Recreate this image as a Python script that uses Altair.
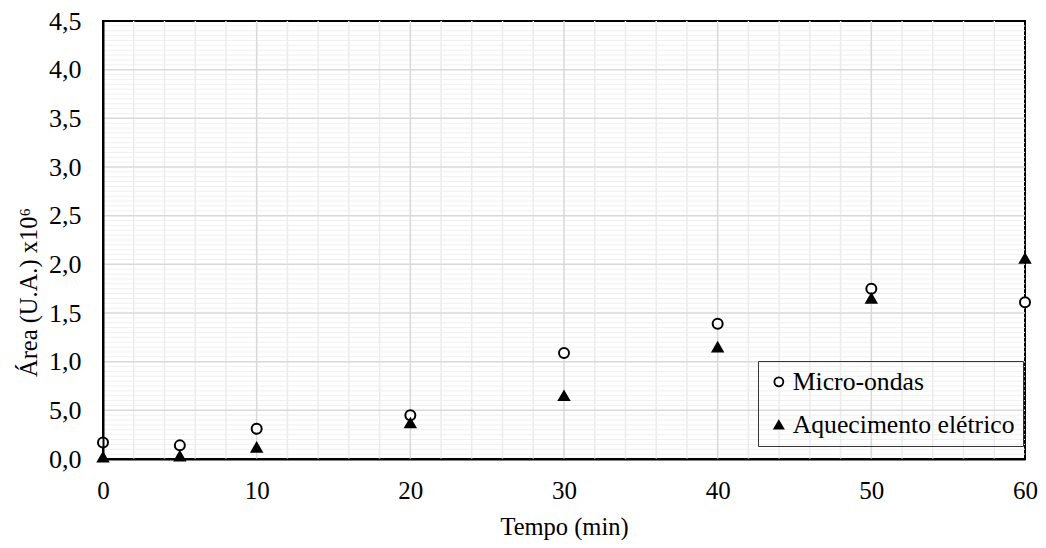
import altair as alt
import pandas as pd

# ---- data ----
tempo = [0, 5, 10, 20, 30, 40, 50, 60]
micro_ondas = [0.17, 0.14, 0.31, 0.45, 1.09, 1.39, 1.75, 1.61]
aquecimento = [0.02, 0.03, 0.12, 0.37, 0.65, 1.15, 1.65, 2.06]
series_names = ["Micro-ondas", "Aquecimento elétrico"]

x_major = [0, 10, 20, 30, 40, 50, 60]
x_minor = [v for v in range(0, 61, 2) if v % 10 != 0]
y_major = [round(i * 0.5, 2) for i in range(10)]
y_minor = [round(i * 0.05, 2) for i in range(91) if i % 10 != 0]
# interior grid lines only (the frame is drawn by the view stroke)
x_grid = x_major[1:-1]
y_grid = y_major[1:-1]

df = pd.DataFrame({
    "Tempo": tempo + tempo,
    "Area": micro_ondas + aquecimento,
    "Serie": [series_names[0]] * len(tempo) + [series_names[1]] * len(tempo),
})

FONT = "Liberation Serif"
xscale = alt.Scale(domain=[0, 60], nice=False, zero=True)
yscale = alt.Scale(domain=[0, 4.5], nice=False, zero=True)

y_label_expr = "datum.value == 0.5 ? '5,0' : replace(format(datum.value, '.1f'), '.', ',')"

xaxis = alt.Axis(
    values=x_major, grid=False, ticks=False, domain=True, domainColor="black", domainWidth=2,
    zindex=1, labelFlush=False, labelFontSize=25, labelFont=FONT, labelColor="black", labelPadding=19,
    title="Tempo (min)", titleFont=FONT, titleFontSize=24.5, titleFontWeight="normal",
    titleColor="black", titleY=75, titleBaseline="alphabetic")
yaxis = alt.Axis(
    values=y_major, grid=False, ticks=False, domain=True, domainColor="black", domainWidth=2,
    zindex=1, labelFlush=False, labelExpr=y_label_expr,
    labelFontSize=26, labelFont=FONT, labelColor="black", labelPadding=22,
    title="Área (U.A.) x10⁶", titleFont=FONT, titleFontSize=24.5, titleFontWeight="normal",
    titleColor="black", titleX=-67, titleY=271, titleBaseline="alphabetic", titleAlign="center")

X = alt.X("Tempo:Q", scale=xscale, axis=xaxis)
Y = alt.Y("Area:Q", scale=yscale, axis=yaxis)

hminor = alt.Chart(pd.DataFrame({"Area": y_minor})).mark_rule(color="#f0f0f0", strokeWidth=1).encode(y=Y)
vminor = alt.Chart(pd.DataFrame({"Tempo": x_minor})).mark_rule(color="#ececec", strokeWidth=1.5).encode(x=X)
hmajor = alt.Chart(pd.DataFrame({"Area": y_grid})).mark_rule(color="#d9d9d9", strokeWidth=1.5).encode(y=Y)
vmajor = alt.Chart(pd.DataFrame({"Tempo": x_grid})).mark_rule(color="#d9d9d9", strokeWidth=1.5).encode(x=X)

legend = alt.Legend(title=None, orient="none", legendX=655, legendY=340,
                    strokeColor="#333333", padding=8, rowPadding=16,
                    labelFont=FONT, labelFontSize=25.7, labelColor="black",
                    labelOffset=1, symbolSize=80, symbolStrokeWidth=1.8,
                    symbolStrokeColor="black", labelLimit=400)

points = alt.Chart(df).mark_point(
    filled=True, strokeWidth=2, size=100, opacity=1, fillOpacity=1, strokeOpacity=1
).encode(
    x=X,
    y=Y,
    shape=alt.Shape("Serie:N", sort=series_names,
                    scale=alt.Scale(domain=series_names, range=["circle", "triangle-up"]),
                    legend=legend),
    fill=alt.Fill("Serie:N", sort=series_names,
                  scale=alt.Scale(domain=series_names, range=["white", "black"]),
                  legend=legend),
    stroke=alt.Stroke("Serie:N", sort=series_names,
                      scale=alt.Scale(domain=series_names, range=["black", "black"]),
                      legend=legend),
)

chart = alt.layer(hminor, vminor, hmajor, vmajor, points).properties(
    width=922, height=438,
    background="white",
    autosize=alt.AutoSizeParams(type="none"),
    padding={"left": 95, "top": 13, "right": 13, "bottom": 81},
).configure(
    font=FONT,
    view=alt.ViewConfig(stroke="black", strokeWidth=2),
    axis=alt.AxisConfig(labelFont=FONT, titleFont=FONT),
    legend=alt.LegendConfig(labelFont=FONT),
)

chart.save("out.html", embed_options={"renderer": "svg", "actions": False})
